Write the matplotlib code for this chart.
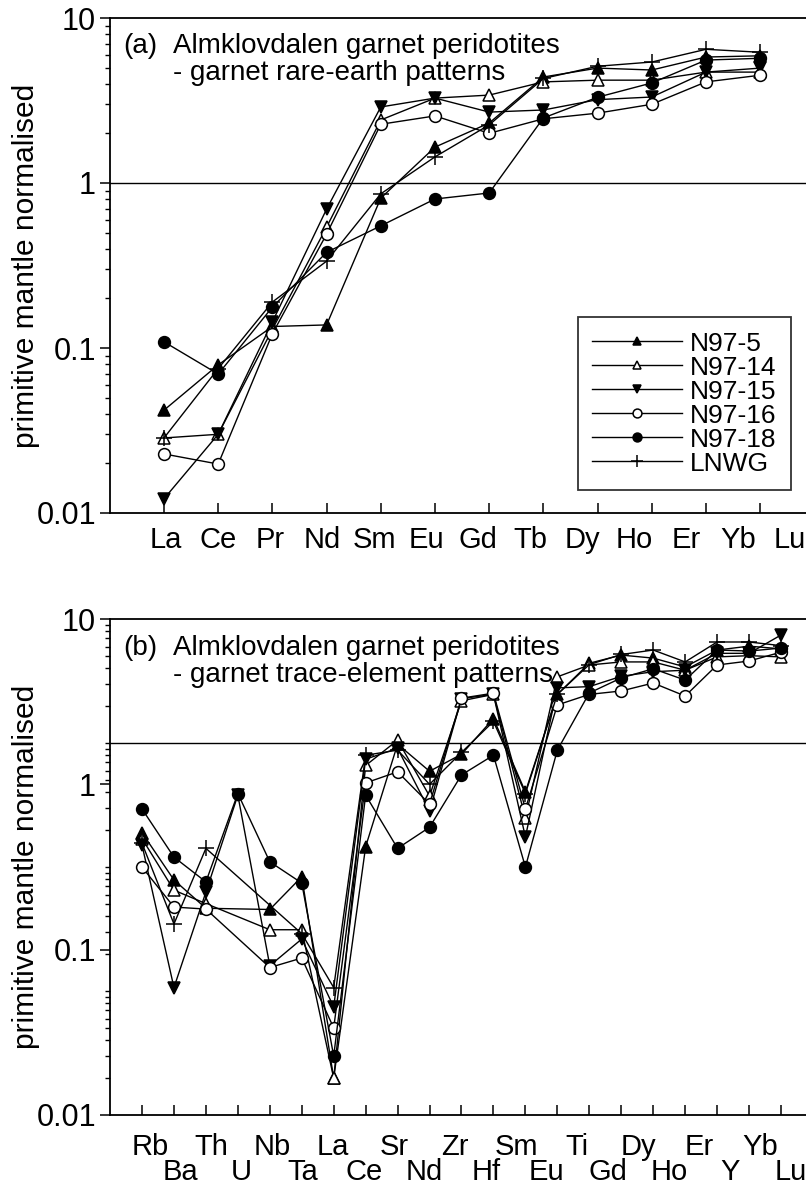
import numpy as np
import matplotlib
matplotlib.use('Agg')
import matplotlib.pyplot as plt
from matplotlib.ticker import FixedLocator, NullFormatter

plt.rcParams['font.family'] = ['Liberation Sans', 'DejaVu Sans']

nan = np.nan

# samples and their symbols
samples = ['N97-5', 'N97-14', 'N97-15', 'N97-16', 'N97-18', 'LNWG']
markers = ['^', '^', 'v', 'o', 'o', '+']
faces = ['black', 'white', 'black', 'white', 'black', 'black']

# (a) garnet rare-earth patterns - 13 labels printed, 12 analysed positions
ree_labels = ['La', 'Ce', 'Pr', 'Nd', 'Sm', 'Eu', 'Gd', 'Tb', 'Dy', 'Ho', 'Er', 'Yb', 'Lu']
ree_n97_5 = [0.042, 0.079, 0.135, 0.138, 0.81, 1.65, 2.31, 4.39, 4.97, 4.84, 5.8, 5.9]
ree_n97_14 = [0.0285, 0.030, 0.13, 0.54, 2.41, 3.27, 3.41, 4.1, 4.2, 4.2, 4.7, 4.7]
ree_n97_15 = [0.0122, 0.030, 0.144, 0.695, 2.89, 3.27, 2.69, 2.77, 3.2, 3.32, 4.7, 4.97]
ree_n97_16 = [0.0228, 0.0198, 0.122, 0.49, 2.27, 2.55, 2.0, 2.45, 2.65, 3.0, 4.1, 4.5]
ree_n97_18 = [0.109, 0.0695, 0.177, 0.38, 0.55, 0.80, 0.87, 2.48, 3.31, 4.04, 5.56, 5.7]
ree_lnwg = [0.0285, 0.075, 0.19, 0.336, 0.86, 1.44, 2.25, 4.3, 5.1, 5.41, 6.46, 6.2]

# (b) garnet trace-element patterns - 22 labels printed, 21 analysed positions
trace_labels = ['Rb', 'Ba', 'Th', 'U', 'Nb', 'Ta', 'La', 'Ce', 'Sr', 'Nd', 'Zr',
                'Hf', 'Sm', 'Eu', 'Ti', 'Gd', 'Dy', 'Ho', 'Er', 'Y', 'Yb', 'Lu']
trace_n97_5 = [0.51, 0.264, 0.178, nan, 0.175, 0.276, 0.0167, 0.42, 1.75, 1.2, 1.52,
               2.5, 0.9, 3.5, 5.4, 6.05, 5.8, 5.13, 6.49, 6.85, 6.6]
trace_n97_14 = [0.47, 0.229, 0.19, nan, 0.132, 0.132, 0.0167, 1.3, 1.85, 0.85, 3.2,
                3.5, 0.625, 4.47, 5.27, 5.5, 5.5, 4.9, 5.9, 6.0, 5.9]
trace_n97_15 = [0.43, 0.059, 0.223, 0.86, 0.08, 0.116, 0.045, 1.42, 1.65, 0.69, 3.3,
                3.5, 0.48, 3.83, 3.9, 4.5, 4.8, 4.9, 6.2, 6.2, 8.0]
trace_n97_16 = [0.316, 0.181, 0.176, nan, 0.078, 0.089, 0.0336, 1.02, 1.19, 0.76, 3.32,
                3.56, 0.71, 3.02, 3.5, 3.67, 4.1, 3.42, 5.27, 5.57, 6.3]
trace_n97_18 = [0.71, 0.363, 0.257, 0.88, 0.34, 0.253, 0.0227, 0.86, 0.41, 0.55, 1.14,
                1.5, 0.316, 1.61, 3.57, 4.4, 5.0, 4.27, 6.49, 6.4, 6.67]
trace_lnwg = [0.44, 0.143, 0.41, nan, nan, 0.125, 0.059, 1.5, 1.61, 1.0, 1.56,
              2.4, 0.88, 3.5, 5.3, 6.1, 6.49, 5.5, 7.26, 7.26, 6.9]

ree_data = [ree_n97_5, ree_n97_14, ree_n97_15, ree_n97_16, ree_n97_18, ree_lnwg]
trace_data = [trace_n97_5, trace_n97_14, trace_n97_15, trace_n97_16, trace_n97_18, trace_lnwg]

yticks = [0.01, 0.1, 1, 10]
ytick_labels = ['0.01', '0.1', '1', '10']

W, H = 806, 1184
fig = plt.figure(figsize=(W / 100, H / 100), dpi=100)


def px_axes(left, top, right, bottom):
    return fig.add_axes([left / W, 1 - bottom / H, (right - left) / W, (bottom - top) / H])


def patterns(ax, data, npos):
    x = np.arange(npos)
    lines = []
    for vals, name, m, fc in zip(data, samples, markers, faces):
        v = np.array(vals, dtype=float)
        ok = ~np.isnan(v)
        ms = 11 if m == '+' else 8.5
        ln, = ax.plot(x[ok], v[ok], color='black', lw=1.0, marker=m, ms=ms,
                      mfc=fc, mec='black', mew=1.1, label=name)
        lines.append(ln)
    return lines


def frame(ax, xmin, xmax, npos):
    ax.set_yscale('log')
    ax.set_ylim(0.01, 10)
    ax.set_xlim(xmin, xmax)
    ax.set_xticks(np.arange(npos))
    ax.set_yticks(yticks, ytick_labels)
    ax.yaxis.set_minor_formatter(NullFormatter())
    ax.spines['right'].set_visible(False)
    for s in ['left', 'bottom', 'top']:
        ax.spines[s].set_linewidth(1.3)
    ax.tick_params(axis='x', direction='in', length=7, width=1.1, labelbottom=False)
    ax.tick_params(axis='y', which='major', direction='out', length=7, width=1.1,
                   labelsize=22, pad=3)
    ax.tick_params(axis='y', which='minor', direction='out', length=3.5, width=1.0)
    ax.set_ylabel('primitive mantle normalised', fontsize=21.5)
    ax.yaxis.set_label_coords(-0.1, 0.5)


def heading(ax, tag, line1, line2, ytop):
    ax.text(0.019, ytop, tag, transform=ax.transAxes, fontsize=20, va='baseline')
    ax.text(0.0905, ytop, line1, transform=ax.transAxes, fontsize=20, va='baseline')
    ax.text(0.0905, ytop - 0.054, line2, transform=ax.transAxes, fontsize=20,
            va='baseline')


# ---- (a) ----
ax1 = px_axes(110, 18, 806, 513)
step_a = 54.2
frame(ax1, -(164 - 110) / step_a, (806 - 164) / step_a, len(ree_n97_5))
ax1.axhline(1, color='black', lw=1.0)
handles = patterns(ax1, ree_data, len(ree_n97_5))
heading(ax1, '(a)', 'Almklovdalen garnet peridotites', '- garnet rare-earth patterns', 0.929)
lab_px = np.linspace(166, 790, len(ree_labels))
for lab, p in zip(ree_labels, lab_px):
    ax1.text((p - 164) / step_a, -0.071, lab, transform=ax1.get_xaxis_transform(),
             ha='center', va='baseline', fontsize=21)
leg = ax1.legend(handles=handles, loc='lower right', bbox_to_anchor=(0.978, 0.046),
                 borderaxespad=0, fontsize=19, frameon=True, fancybox=False,
                 handlelength=3.4, labelspacing=0.0, markerscale=0.75,
                 borderpad=0.55, handletextpad=0.3)
leg.get_frame().set_edgecolor('black')
leg.get_frame().set_linewidth(1.3)

# ---- (b) ----
ax2 = px_axes(110, 619, 806, 1115)
step_b = 31.95
frame(ax2, -(142 - 110) / step_b, (806 - 142) / step_b, len(trace_n97_5))
# the minor ticks of this panel follow a four-decade spacing
pseudo = [m * 10.0 ** k for k in range(-3, 1) for m in range(1, 10)]
ax2.yaxis.set_minor_locator(FixedLocator(10 ** (-2 + 0.75 * (np.log10(pseudo) + 3))))
ax2.axhline(10 ** 0.25, color='black', lw=1.0)
patterns(ax2, trace_data, len(trace_n97_5))
heading(ax2, '(b)', 'Almklovdalen garnet peridotites', '- garnet trace-element patterns', 0.927)
lab_px = np.linspace(150, 791, len(trace_labels))
for i, (lab, p) in enumerate(zip(trace_labels, lab_px)):
    yy = -0.081 if i % 2 == 0 else -0.131
    ax2.text((p - 142) / step_b, yy, lab, transform=ax2.get_xaxis_transform(),
             ha='center', va='baseline', fontsize=21)

fig.savefig('out.png', dpi=100)
